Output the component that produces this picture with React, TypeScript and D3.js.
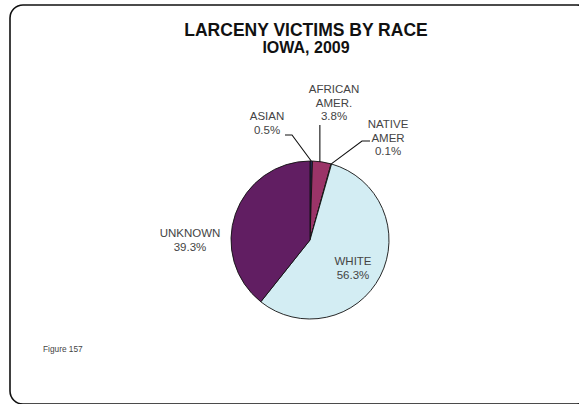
import * as d3 from 'd3';

const categories = ['ASIAN', 'AFRICAN AMER.', 'NATIVE AMER', 'WHITE', 'UNKNOWN'];
const values = [0.5, 3.8, 0.1, 56.3, 39.3];
const colors = ['#2b2a62', '#9b3468', '#ffffcc', '#d3edf3', '#611e62'];
// label lines as shown on the chart
const labelLines = [['ASIAN'], ['AFRICAN', 'AMER.'], ['NATIVE', 'AMER'], ['WHITE'], ['UNKNOWN']];

const W = 579;
const H = 404;
const cx = 310;
const cy = 240;
const R = 79;

// where each label block sits, and the elbow of its leader line (null = no leader)
const labelPos: [number, number][] = [
  [267, 120],
  [334, 93],
  [388, 128],
  [353, 265],
  [190, 237],
];
const leaders: ([number, number][] | null)[] = [
  [[285, 135], [292, 135]],
  [[319, 125]],
  [[370, 141], [362, 141]],
  null,
  null,
];

export default function App() {
  const pie = d3
    .pie<number>()
    .sort(null)
    .value((d) => d)
    .startAngle(0)
    .endAngle(2 * Math.PI);
  const arcs = pie(values);
  const arc = d3.arc<d3.PieArcDatum<number>>().innerRadius(0).outerRadius(R);
  const edge = d3.arc<d3.PieArcDatum<number>>().innerRadius(R).outerRadius(R);
  const fmt = d3.format('.1f');

  return (
    <svg
      width={W}
      height={H}
      style={{ position: 'absolute', left: 0, top: 0, display: 'block', background: '#fff' }}
      fontFamily="'Liberation Sans', Arial, sans-serif"
    >
      <rect x={10} y={5} width={580} height={399} rx={13} fill="#fff" stroke="#111" strokeWidth={1.6} />
      <text x={306} y={36} textAnchor="middle" fontWeight="bold" fontSize={17.5} fill="#111">
        LARCENY VICTIMS BY RACE
      </text>
      <text x={306} y={52.5} textAnchor="middle" fontWeight="bold" fontSize={16} fill="#111">
        IOWA, 2009
      </text>

      <g transform={`translate(${cx},${cy})`}>
        {arcs.map((a, i) => (
          <path key={categories[i]} d={arc(a) ?? ''} fill={colors[i]} stroke="#111" strokeWidth={0.9} />
        ))}
      </g>

      {arcs.map((a, i) => {
        const pts = leaders[i];
        if (!pts) return null;
        const [ex, ey] = edge.centroid(a);
        const end: [number, number] = [cx + ex, cy + ey];
        let path: [number, number][];
        if (pts.length === 1) path = [[end[0] - 2, pts[0][1]], [end[0] - 2, end[1]]];
        else path = [...pts, end];
        return (
          <path
            key={'l' + i}
            d={d3.line()(path) ?? ''}
            fill="none"
            stroke="#111"
            strokeWidth={1.1}
          />
        );
      })}

      {arcs.map((a, i) => {
        const [lx, ly] = labelPos[i];
        const lines = [...labelLines[i], fmt(values[i]) + '%'];
        return (
          <text key={'t' + i} x={lx} y={ly} textAnchor="middle" fontSize={11.5} fill="#444">
            {lines.map((s, j) => (
              <tspan key={j} x={lx} dy={j === 0 ? 0 : 13.5}>
                {s}
              </tspan>
            ))}
          </text>
        );
      })}

      <text x={43} y={352} fontSize={8.3} fill="#444">
        Figure 157
      </text>
    </svg>
  );
}
